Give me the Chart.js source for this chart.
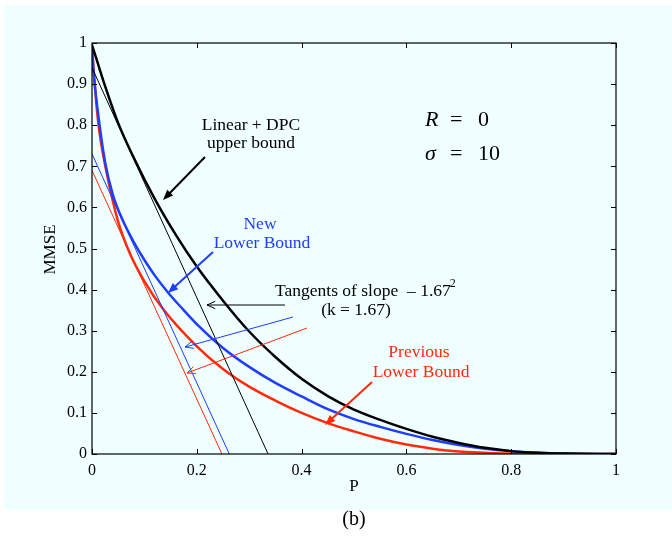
<!DOCTYPE html>
<html>
<head>
<meta charset="utf-8">
<script src="https://cdn.jsdelivr.net/npm/chart.js@4.4.0/dist/chart.umd.min.js"></script>
<style>
  body { margin: 0; background: #fff; }
  #wrap { width: 672px; height: 536px; }
</style>
</head>
<body>
<div id="wrap"><canvas id="chart" width="672" height="536"></canvas></div>
<script>
// values
var pUpper   = [0, 0.01, 0.025, 0.05, 0.08, 0.12, 0.16, 0.2, 0.25, 0.3, 0.35, 0.4, 0.45, 0.5, 0.55, 0.6, 0.65, 0.7, 0.75, 0.8, 0.85, 0.9, 1];
var mseUpper = [0.995, 0.955, 0.895, 0.805, 0.72, 0.62, 0.533, 0.456, 0.373, 0.298, 0.236, 0.183, 0.141, 0.108, 0.083, 0.061, 0.042, 0.027, 0.015, 0.007, 0.003, 0.001, 0];

var pNew   = [0, 0.003, 0.01, 0.025, 0.04, 0.06, 0.08, 0.1, 0.12, 0.145, 0.17, 0.2, 0.25, 0.3, 0.35, 0.4, 0.45, 0.5, 0.55, 0.6, 0.65, 0.7, 0.75, 0.8, 0.85, 0.9, 1];
var mseNew = [0.99, 0.93, 0.845, 0.71, 0.63, 0.565, 0.515, 0.472, 0.434, 0.393, 0.357, 0.316, 0.258, 0.212, 0.173, 0.14, 0.109, 0.085, 0.066, 0.049, 0.034, 0.022, 0.013, 0.007, 0.003, 0.001, 0];

var pPrev   = [0, 0.004, 0.012, 0.028, 0.05, 0.073, 0.1, 0.136, 0.2, 0.25, 0.3, 0.35, 0.4, 0.45, 0.5, 0.55, 0.6, 0.65, 0.7, 0.75, 0.8, 1];
var msePrev = [0.99, 0.92, 0.805, 0.684, 0.565, 0.486, 0.42, 0.352, 0.262, 0.207, 0.164, 0.13, 0.1, 0.075, 0.055, 0.037, 0.023, 0.013, 0.006, 0.003, 0.001, 0];

// tangents of slope -1.67^2 : end points (P, MMSE)
var tanUpperP = [0, 0.336],  tanUpperM = [0.94, 0];
var tanNewP   = [0, 0.262],  tanNewM   = [0.73, 0];
var tanPrevP  = [0, 0.248],  tanPrevM  = [0.69, 0];

var xTicks = [0, 0.2, 0.4, 0.6, 0.8, 1];
var xTickLabels = ['0', '0.2', '0.4', '0.6', '0.8', '1'];
var yTicks = [0, 0.1, 0.2, 0.3, 0.4, 0.5, 0.6, 0.7, 0.8, 0.9, 1];
var yTickLabels = ['0', '0.1', '0.2', '0.3', '0.4', '0.5', '0.6', '0.7', '0.8', '0.9', '1'];

var BLACK = '#000000', BLUE = '#1f3cff', RED = '#ff2a0a';
var SERIF = '"Liberation Serif", "Times New Roman", serif';

function pts(xs, ys) {
    return xs.map(function (x, i) { return { x: x, y: ys[i] }; });
}

function curve(xs, ys, color, w) {
    return {
        data: pts(xs, ys),
        borderColor: color,
        borderWidth: w,
        pointRadius: 0,
        fill: false,
        cubicInterpolationMode: 'monotone'
    };
}

function arrow(ctx, x0, y0, x1, y1, color, w, filled) {
    var a = Math.atan2(y1 - y0, x1 - x0);
    var len = filled ? 11 : 9, half = filled ? 0.38 : 0.42;
    ctx.save();
    ctx.strokeStyle = color;
    ctx.fillStyle = color;
    ctx.lineWidth = w;
    ctx.beginPath();
    ctx.moveTo(x0, y0);
    ctx.lineTo(filled ? x1 - Math.cos(a) * len * 0.8 : x1, filled ? y1 - Math.sin(a) * len * 0.8 : y1);
    ctx.stroke();
    var lx = x1 - Math.cos(a - half) * len, ly = y1 - Math.sin(a - half) * len;
    var rx = x1 - Math.cos(a + half) * len, ry = y1 - Math.sin(a + half) * len;
    ctx.beginPath();
    if (filled) {
        ctx.moveTo(x1, y1); ctx.lineTo(lx, ly); ctx.lineTo(rx, ry); ctx.closePath(); ctx.fill();
    } else {
        ctx.moveTo(lx, ly); ctx.lineTo(x1, y1); ctx.lineTo(rx, ry); ctx.stroke();
    }
    ctx.restore();
}

var figurePlugin = {
    id: 'figure',
    beforeDraw: function (chart) {
        var ctx = chart.ctx;
        ctx.save();
        ctx.fillStyle = '#ffffff';
        ctx.fillRect(0, 0, chart.width, chart.height);
        ctx.fillStyle = '#f0ffff';
        ctx.fillRect(4, 5, chart.width - 4, 505);
        ctx.restore();
    },
    afterDatasetsDraw: function (chart) {
        var ctx = chart.ctx, xs = chart.scales.x, ys = chart.scales.y, area = chart.chartArea;
        function X(v) { return xs.getPixelForValue(v); }
        function Y(v) { return ys.getPixelForValue(v); }

        ctx.save();
        // box and inward ticks
        ctx.strokeStyle = BLACK;
        ctx.lineWidth = 1.2;
        ctx.strokeRect(area.left, area.top, area.right - area.left, area.bottom - area.top);
        ctx.lineWidth = 1;
        ctx.beginPath();
        xTicks.forEach(function (t) {
            var x = Math.round(X(t)) + 0.5;
            ctx.moveTo(x, area.bottom); ctx.lineTo(x, area.bottom - 5);
            ctx.moveTo(x, area.top); ctx.lineTo(x, area.top + 5);
        });
        yTicks.forEach(function (t) {
            var y = Math.round(Y(t)) + 0.5;
            ctx.moveTo(area.left, y); ctx.lineTo(area.left + 5, y);
            ctx.moveTo(area.right, y); ctx.lineTo(area.right - 5, y);
        });
        ctx.stroke();

        // axis titles
        ctx.fillStyle = BLACK;
        ctx.font = '17px ' + SERIF;
        ctx.textAlign = 'center';
        ctx.textBaseline = 'middle';
        ctx.fillText('P', (area.left + area.right) / 2, 487);
        ctx.save();
        ctx.translate(51, (area.top + area.bottom) / 2 + 1);
        ctx.rotate(-Math.PI / 2);
        ctx.fillText('MMSE', 0, 0);
        ctx.restore();
        ctx.font = '20px ' + SERIF;
        ctx.fillText('(b)', (area.left + area.right) / 2, 520);

        // annotations
        ctx.textBaseline = 'alphabetic';
        ctx.font = '17.5px ' + SERIF;
        ctx.fillStyle = BLACK;
        ctx.fillText('Linear + DPC', X(0.3034), Y(0.7883));
        ctx.fillText('upper bound', X(0.3034), Y(0.7445));
        arrow(ctx, X(0.2156), Y(0.7226), X(0.1355), Y(0.618), BLACK, 2, true);

        ctx.fillStyle = BLUE;
        ctx.fillText('New', X(0.3206), Y(0.5474));
        ctx.fillText('Lower Bound', X(0.3244), Y(0.5012));
        arrow(ctx, X(0.2309), Y(0.4915), X(0.145), Y(0.3917), BLUE, 2, true);

        ctx.fillStyle = BLACK;
        var tl = 'Tangents of slope  \u2013 1.67';
        ctx.fillText(tl, X(0.517), Y(0.3844));
        var tw = ctx.measureText(tl).width;
        ctx.font = '12px ' + SERIF;
        ctx.textAlign = 'left';
        ctx.fillText('2', X(0.517) + tw / 2 - 1, Y(0.3844) - 9);
        ctx.font = '17.5px ' + SERIF;
        ctx.textAlign = 'center';
        ctx.fillText('(k = 1.67)', X(0.5038), Y(0.3382));
        arrow(ctx, X(0.3683), Y(0.3625), X(0.2195), Y(0.3625), BLACK, 1, false);
        arrow(ctx, X(0.3836), Y(0.3333), X(0.1775), Y(0.2603), BLUE, 1, false);
        arrow(ctx, X(0.4103), Y(0.3066), X(0.1813), Y(0.1971), RED, 1, false);

        ctx.fillStyle = RED;
        ctx.fillText('Previous', X(0.624), Y(0.236));
        ctx.fillText('Lower Bound', X(0.6279), Y(0.1873));
        arrow(ctx, X(0.5344), Y(0.1752), X(0.4447), Y(0.0706), RED, 2, true);

        // parameters
        ctx.fillStyle = BLACK;
        ctx.textAlign = 'left';
        ctx.font = 'italic 22px ' + SERIF;
        ctx.fillText('R', X(0.6355), Y(0.798));
        ctx.fillText('\u03c3', X(0.6355), Y(0.7153));
        ctx.font = '22px ' + SERIF;
        ctx.fillText('=', X(0.6832), Y(0.798));
        ctx.fillText('=', X(0.6832), Y(0.7153));
        ctx.fillText('0', X(0.7366), Y(0.798));
        ctx.fillText('10', X(0.7366), Y(0.7153));
        ctx.restore();
    }
};

new Chart(document.getElementById('chart'), {
    type: 'line',
    data: {
        datasets: [
            curve(tanUpperP, tanUpperM, BLACK, 1),
            curve(tanNewP, tanNewM, BLUE, 1),
            curve(tanPrevP, tanPrevM, RED, 1),
            curve(pUpper, mseUpper, BLACK, 2.5),
            curve(pNew, mseNew, BLUE, 2.5),
            curve(pPrev, msePrev, RED, 2.5)
        ]
    },
    options: {
        responsive: false,
        animation: false,
        layout: { padding: { left: 0, top: 43, right: 56, bottom: 52 } },
        plugins: { legend: { display: false }, tooltip: { enabled: false } },
        scales: {
            x: {
                type: 'linear', min: 0, max: 1,
                afterBuildTicks: function (s) { s.ticks = xTicks.map(function (v) { return { value: v }; }); },
                afterFit: function (s) { s.height = 30; },
                ticks: {
                    padding: 7, color: BLACK, maxRotation: 0,
                    font: { family: SERIF, size: 16 },
                    callback: function (v, i) { return xTickLabels[i]; }
                },
                grid: { display: false, drawTicks: false },
                border: { display: false }
            },
            y: {
                type: 'linear', min: 0, max: 1,
                afterBuildTicks: function (s) { s.ticks = yTicks.map(function (v) { return { value: v }; }); },
                afterFit: function (s) { s.width = 92; },
                ticks: {
                    padding: 5, color: BLACK,
                    font: { family: SERIF, size: 16 },
                    callback: function (v, i) { return yTickLabels[i]; }
                },
                grid: { display: false, drawTicks: false },
                border: { display: false }
            }
        }
    },
    plugins: [figurePlugin]
});
</script>
</body>
</html>
